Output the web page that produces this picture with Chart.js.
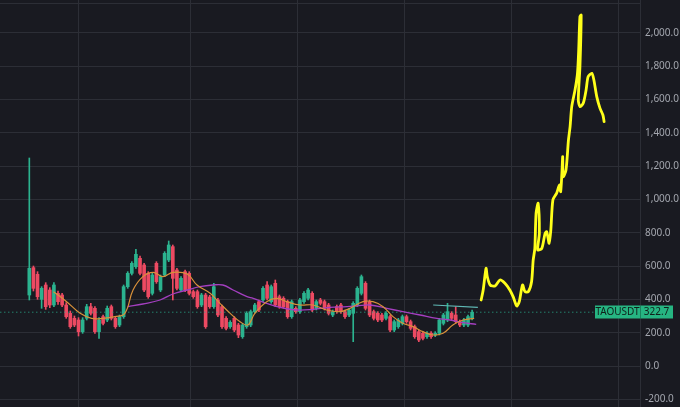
<!DOCTYPE html>
<html>
<head>
<meta charset="utf-8">
<script src="https://cdn.jsdelivr.net/npm/chart.js@4.4.0/dist/chart.umd.min.js"></script>
<style>
  html, body { margin: 0; padding: 0; background: #191a21; }
  #wrap { width: 680px; height: 407px; }
</style>
</head>
<body>
<div id="wrap"><canvas id="priceChart"></canvas></div>
<script>
// TAOUSDT candles (one entry per candle)
const symbol = 'TAOUSDT';
const opens = [426, 590, 550, 400, 486, 456, 366, 436, 426, 366, 316, 286, 276, 206, 286, 356, 346, 206, 296, 276,
  356, 286, 246, 296, 476, 556, 596, 646, 606, 556, 436, 616, 456, 546, 636, 716, 576, 456, 566, 556,
  446, 446, 366, 426, 414, 356, 396, 356, 286, 236, 286, 246, 176, 236, 246, 326, 386, 396, 486, 386,
  496, 416, 406, 386, 296, 346, 326, 386, 406, 436, 346, 396, 386, 366, 306, 356, 366, 326, 306, 316,
  366, 436, 496, 386, 326, 316, 306, 286, 296, 216, 236, 256, 296, 266, 236, 206, 196, 176, 196, 186,
  196, 256, 276, 316, 306, 266, 246, 246, 286];
const highs = [1248, 600, 566, 476, 500, 470, 500, 450, 436, 380, 330, 300, 290, 290, 370, 376, 356, 290, 306, 360,
  366, 296, 306, 486, 566, 626, 700, 660, 616, 566, 556, 626, 546, 686, 750, 726, 586, 536, 576, 566,
  456, 456, 436, 436, 424, 496, 406, 366, 296, 272, 296, 256, 256, 326, 336, 376, 396, 476, 506, 486,
  516, 426, 416, 396, 396, 356, 406, 446, 466, 446, 396, 406, 396, 376, 336, 366, 376, 336, 346, 386,
  476, 546, 506, 396, 336, 326, 316, 326, 306, 276, 286, 306, 306, 276, 246, 216, 206, 206, 206, 206,
  286, 316, 376, 326, 356, 276, 286, 306, 336];
const lows = [396, 450, 400, 346, 340, 350, 356, 370, 356, 286, 226, 236, 180, 196, 276, 306, 196, 166, 246, 266,
  276, 226, 236, 286, 466, 546, 586, 546, 446, 406, 426, 496, 446, 536, 626, 396, 456, 446, 446, 426,
  406, 346, 356, 226, 346, 346, 296, 226, 216, 226, 206, 170, 166, 226, 236, 316, 326, 386, 396, 376,
  356, 346, 346, 286, 286, 316, 316, 376, 396, 326, 336, 366, 336, 306, 296, 316, 316, 286, 296, 146,
  356, 426, 336, 296, 276, 266, 266, 276, 206, 206, 226, 246, 256, 216, 166, 146, 156, 166, 166, 176,
  186, 246, 266, 276, 256, 236, 236, 236, 276];
const closes = [586, 466, 416, 466, 356, 366, 486, 386, 366, 296, 236, 246, 206, 276, 356, 316, 206, 276, 256, 346,
  286, 236, 296, 476, 556, 616, 670, 556, 456, 416, 546, 506, 536, 676, 726, 526, 466, 526, 456, 436,
  416, 356, 426, 236, 356, 476, 306, 236, 226, 262, 216, 186, 246, 316, 326, 366, 336, 466, 406, 476,
  366, 356, 356, 296, 386, 326, 396, 436, 456, 336, 386, 376, 346, 316, 326, 326, 326, 296, 336, 376,
  466, 536, 346, 306, 286, 276, 276, 316, 216, 266, 276, 296, 266, 226, 176, 156, 166, 196, 176, 196,
  276, 306, 326, 286, 266, 246, 276, 296, 322.7];

// moving averages (x in candle index units)
const maFastX = [5.9, 9.1, 12.4, 15.2, 18.0, 20.9, 23.3, 25.3, 27.7, 30.2, 32.6, 35.0, 38.5, 40.9, 44.1, 46.5, 49.0, 51.4,
  53.3, 55.0, 57.9, 60.3, 62.8, 66.0, 69.2, 72.5, 75.8, 78.2, 81.4, 83.8, 86.3, 88.7, 91.1, 93.6, 96.0, 98.5,
  100.9, 103.3, 105.8, 108.5];
const maFastY = [446, 386, 316, 286, 286, 296, 316, 456, 536, 562, 536, 562, 552, 486, 436, 376, 316, 266,
  246, 316, 386, 406, 386, 366, 366, 336, 326, 346, 386, 386, 356, 296, 256, 236, 206, 186,
  196, 246, 276, 286];
const maSlowX = [24.0, 27.7, 31.9, 35.0, 38.5, 41.6, 44.8, 47.2, 49.7, 53.1, 54.6, 57.9, 61.2, 65.3, 69.2, 73.3, 77.5,
  79.9, 83.1, 87.2, 91.1, 95.3, 99.4, 102.6, 105.8, 109.0];
const maSlowY = [356, 372, 396, 432, 456, 476, 486, 486, 456, 416, 406, 376, 352, 336, 340, 352, 356,
  360, 366, 346, 326, 306, 286, 276, 260, 250];

// short drawn level over the last candles
const levelX = [98.5, 109.4];
const levelY = [366, 352];

// hand-drawn yellow projection
const sketchX = [110.2, 110.7, 111.4, 111.7, 112.4, 113.6, 114.8, 116.0, 117.2, 118.0, 118.9, 119.5, 120.3, 120.9,
  121.7, 122.5, 122.9, 123.3, 123.6, 124.1, 124.4, 124.0, 125.0, 125.8, 126.2, 126.8, 127.2, 127.7, 128.6,
  129.3, 129.6, 129.9, 130.1, 130.2, 130.9, 131.5, 131.9, 132.3, 133.1, 133.7, 134.0, 134.3, 134.6, 134.3,
  133.9, 134.3, 135.1, 135.8, 136.3, 137.2, 137.7, 138.4, 139.2, 139.9, 140.2];
const sketchY = [396, 456, 586, 536, 486, 480, 516, 496, 456, 416, 360, 386, 486, 446,
  446, 506, 636, 706, 916, 976, 796, 696, 706, 796, 806, 736, 816, 996, 1036,
  1086, 1046, 1156, 1256, 1136, 1176, 1356, 1436, 1556, 1656, 1756, 1896, 2096, 2106, 1796,
  1596, 1556, 1576, 1656, 1736, 1756, 1716, 1616, 1546, 1506, 1466];

const yTicks = [-200, 0, 200, 400, 600, 800, 1000, 1200, 1400, 1600, 1800, 2000];
const yTopLine = 2178;
const xGridTicks = [12.1, 39.2, 65.5, 91.6, 117.7, 143.8];

const UP = '#2bb38f';
const DOWN = '#ec4a62';
const GRID = '#2c2e36';
const lastClose = closes[closes.length - 1];

const pts = (xs, ys) => xs.map((x, i) => ({ x: x, y: ys[i] }));
const candleColor = ctx => {
  const i = ctx.dataIndex;
  return closes[i] >= opens[i] ? UP : DOWN;
};

const priceTag = {
  id: 'priceTag',
  afterDraw(chart) {
    const { ctx, chartArea, scales } = chart;
    const y = Math.round(scales.y.getPixelForValue(lastClose));
    const r = chartArea.right;
    ctx.save();
    ctx.fillStyle = '#26b582';
    ctx.fillRect(r - 45, y - 6.5, 78, 13);
    ctx.fillStyle = 'rgba(10,40,30,0.35)';
    ctx.fillRect(r, y - 6.5, 1, 13);
    ctx.fillStyle = '#10201a';
    ctx.font = '10px "Noto Sans"';
    ctx.textBaseline = 'middle';
    ctx.textAlign = 'center';
    ctx.fillText(symbol, r - 22.5, y + 0.5);
    ctx.fillText(lastClose.toFixed(1), r + 16.5, y + 0.5);
    ctx.restore();
  }
};

new Chart(document.getElementById('priceChart'), {
  type: 'bar',
  data: {
    datasets: [
      {
        type: 'line', label: 'sketch', order: 0,
        data: pts(sketchX, sketchY),
        borderColor: '#ffff1a', borderWidth: 2.8, tension: 0.25,
        borderCapStyle: 'round', borderJoinStyle: 'round', pointRadius: 0
      },
      {
        type: 'line', label: 'level', order: 1,
        data: pts(levelX, levelY),
        borderColor: '#5fb7b4', borderWidth: 1.2, pointRadius: 0
      },
      {
        type: 'line', label: 'MA fast', order: 2,
        data: pts(maFastX, maFastY),
        borderColor: '#d9913a', borderWidth: 1.2, tension: 0.4, pointRadius: 0
      },
      {
        type: 'line', label: 'MA slow', order: 3,
        data: pts(maSlowX, maSlowY),
        borderColor: '#a43fc0', borderWidth: 1.3, tension: 0.4, pointRadius: 0
      },
      {
        type: 'line', label: 'last price', order: 4,
        data: [{ x: -10, y: lastClose }, { x: 150, y: lastClose }],
        borderColor: '#2bb38f', borderWidth: 1, borderDash: [1, 3], pointRadius: 0
      },
      {
        label: 'body', order: 5, grouped: false,
        data: opens.map((o, i) => ({ x: i, y: [o, closes[i]] })),
        backgroundColor: candleColor, barThickness: 3, minBarLength: 1
      },
      {
        label: 'wick', order: 6, grouped: false,
        data: lows.map((l, i) => ({ x: i, y: [l, highs[i]] })),
        backgroundColor: candleColor, barThickness: 1
      }
    ]
  },
  options: {
    responsive: true,
    maintainAspectRatio: false,
    animation: false,
    layout: { padding: 0 },
    plugins: { legend: { display: false }, tooltip: { enabled: false } },
    scales: {
      x: {
        type: 'linear', min: -7.15, max: 148.95, offset: false,
        afterBuildTicks: s => { s.ticks = xGridTicks.map(v => ({ value: v })); },
        afterFit: s => { s.height = 0; s.paddingLeft = 0; s.paddingRight = 0; },
        ticks: { display: false },
        grid: { color: GRID, drawTicks: false, offset: false },
        border: { display: false }
      },
      y: {
        type: 'linear', position: 'right', min: -246, max: 2196,
        afterBuildTicks: s => { s.ticks = yTicks.concat([yTopLine]).map(v => ({ value: v })); },
        afterFit: s => { s.width = 40; s.paddingTop = 0; s.paddingBottom = 0; },
        ticks: {
          color: '#a3a6ae', padding: 5,
          font: { family: '"Noto Sans"', size: 10 },
          callback: v => v === yTopLine ? '' :
            v.toLocaleString('en-US', { minimumFractionDigits: 1, maximumFractionDigits: 1 })
        },
        grid: { color: GRID, drawTicks: false },
        border: { display: true, color: GRID }
      }
    }
  },
  plugins: [priceTag]
});
</script>
</body>
</html>
